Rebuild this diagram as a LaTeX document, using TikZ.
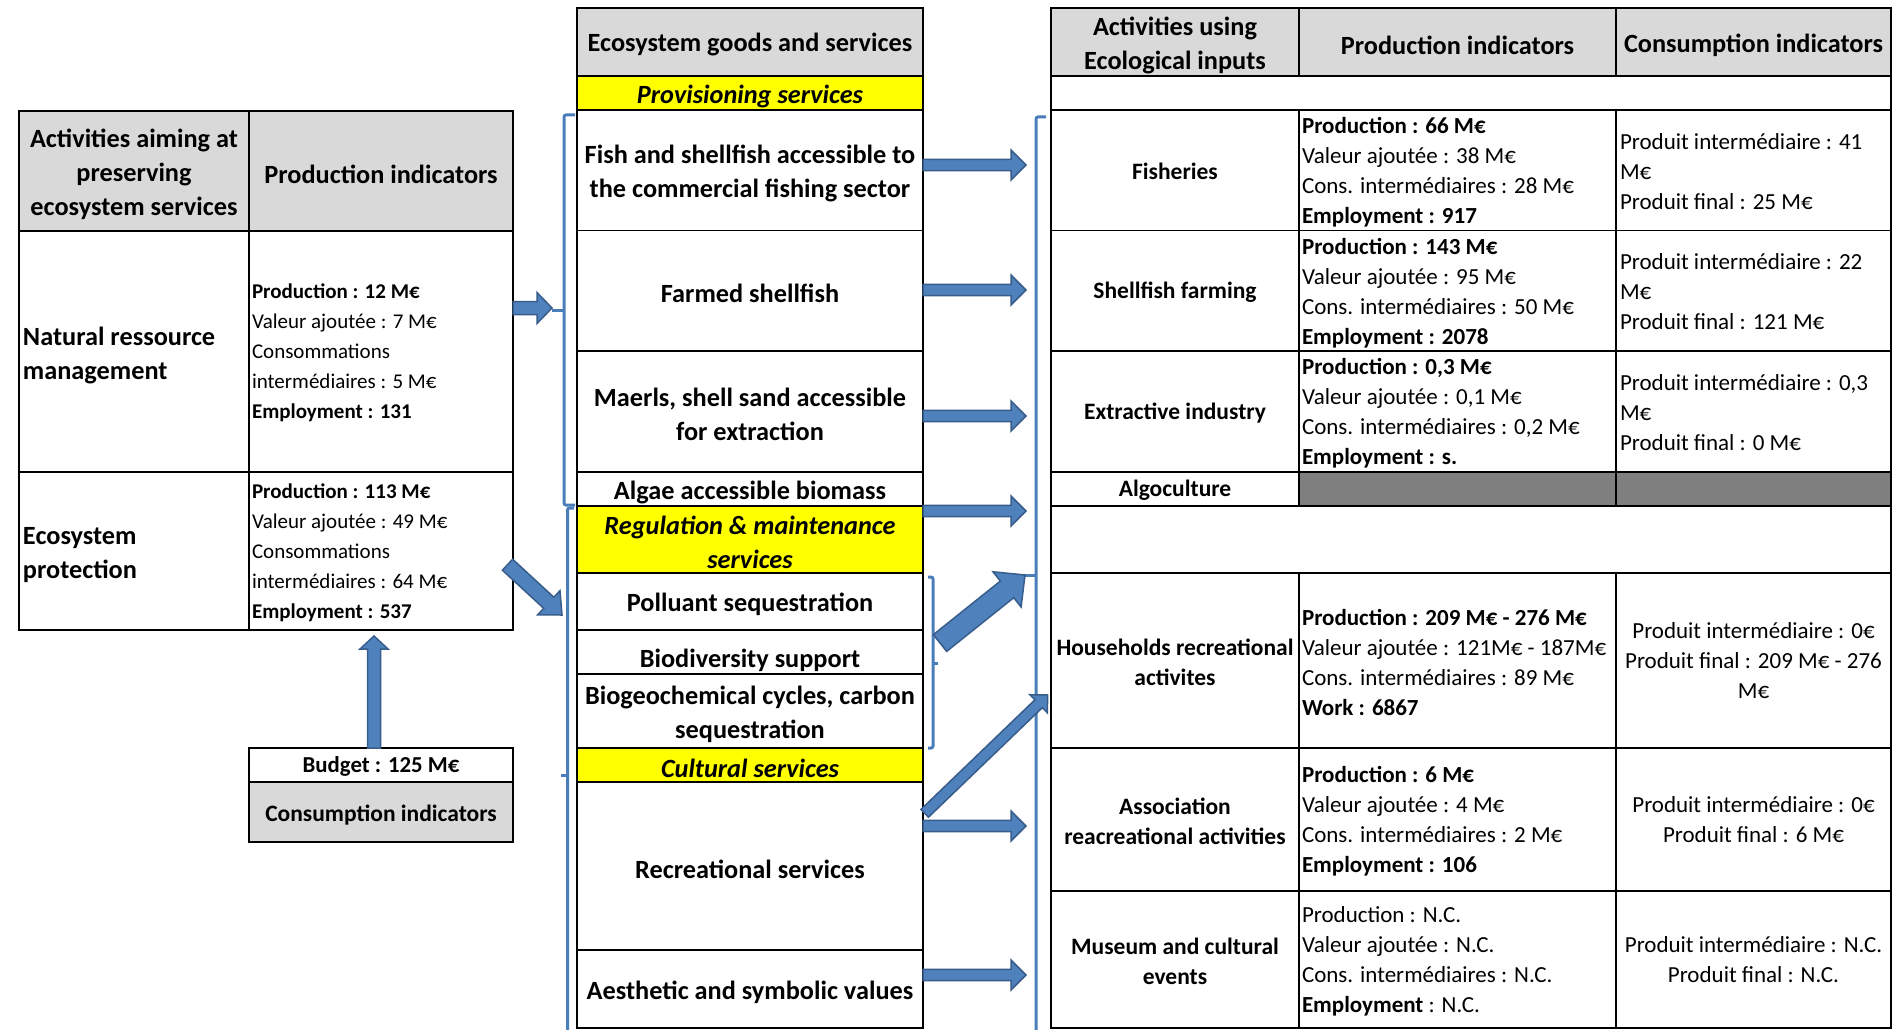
\documentclass[tikz,border=0pt]{standalone}
\usepackage{fontspec}
\setmainfont{Carlito}
\usetikzlibrary{calc,fit}
\definecolor{hgray}{HTML}{D9D9D9}
\definecolor{dgray}{HTML}{7F7F7F}
\definecolor{yel}{HTML}{FFFF00}
\definecolor{afill}{HTML}{4F81BD}
\definecolor{aline}{HTML}{385D8A}
\definecolor{bline}{HTML}{4A7EBB}
\newcommand{\fb}{\fontsize{21}{30}\selectfont}
\newcommand{\fh}{\fontsize{26.3}{34}\selectfont}
\newcommand{\frb}{\fontsize{23}{30}\selectfont}
\newcommand{\frc}{\fontsize{23.5}{30}\selectfont}
\tikzset{
  cellbox/.style={draw=black, line width=1.5pt, inner sep=0pt, outer sep=0pt},
  hdrbox/.style={cellbox, fill=hgray},
  yelbox/.style={cellbox, fill=yel},
  darkbox/.style={cellbox, fill=dgray},
  txt/.style={inner sep=0pt, outer sep=0pt, align=left, font=\fb, anchor=west},
  rtxt/.style={txt, font=\frb},
  ctxt/.style={inner sep=0pt, outer sep=0pt, align=center, font=\fb},
  bigt/.style={inner sep=0pt, outer sep=0pt, align=center, font=\fh\bfseries, yshift=-3pt},
  itt/.style={bigt, font=\fh\bfseries\itshape},
  rct/.style={inner sep=0pt, outer sep=0pt, align=center, font=\frc\bfseries, yshift=-1.5pt},
  bigl/.style={inner sep=0pt, outer sep=0pt, align=left, font=\fh\bfseries, anchor=west},
  barrowstyle/.style={fill=afill, draw=aline, line width=1.5pt, line join=miter},
  brk/.style={draw=bline, line width=3pt, rounded corners=2pt},
}
% name, x1, y1, x2, y2, box style, text style, text
\newcommand{\cell}[8]{\node[#6, fit={(#2,#3) (#4,#5)}] (#1) {};
  \node[#7] (#1t) at (#1.center) {#8};}
\newcommand{\barrow}[5]{%
  \coordinate (bh) at ($(#2)!#5!(#1)$);
  \draw[barrowstyle] ($(#1)!#3!90:(#2)$) -- ($(bh)!#3!90:(#2)$) -- ($(bh)!#4!90:(#2)$) -- (#2)
    -- ($(bh)!#4!-90:(#2)$) -- ($(bh)!#3!-90:(#2)$) -- ($(#1)!#3!-90:(#2)$) -- cycle;}
\begin{document}
\begin{tikzpicture}[x=1pt, y=-1pt]
\useasboundingbox[fill=white] (0,0) rectangle (1893,1030);

% ---------- left table ----------
\cell{lh1}{19}{111}{249}{231}{hdrbox}{bigt}{Activities aiming at\\preserving\\ecosystem services}
\cell{lh2}{249}{111}{513}{231}{hdrbox}{bigt}{Production indicators}
\cell{l11}{19}{231}{249}{472}{cellbox}{bigt}{}
\cell{l12}{249}{231}{513}{472}{cellbox}{bigt}{}
\cell{l21}{19}{472}{249}{630}{cellbox}{bigt}{}
\cell{l22}{249}{472}{513}{630}{cellbox}{bigt}{}
\node[bigl] (l11x) at ($(l11.west)+(4,3.5)$) {Natural ressource\\management};
\node[txt] (l12x) at ($(l12.west)+(3,1)$) {\textbf{Production : 12 M€}\\Valeur ajoutée : 7 M€\\Consommations\\intermédiaires : 5 M€\\\textbf{Employment : 131}};
\node[bigl] (l21x) at ($(l21.west)+(4,4.5)$) {Ecosystem\\protection};
\node[txt] (l22x) at ($(l22.west)+(3,2)$) {\textbf{Production : 113 M€}\\Valeur ajoutée : 49 M€\\Consommations\\intermédiaires : 64 M€\\\textbf{Employment : 537}};
\cell{lb1}{249}{748}{513}{782}{cellbox}{bigt, font=\fontsize{22.8}{30}\selectfont\bfseries, yshift=2pt}{Budget : 125 M€}
\cell{lb2}{249}{782}{513}{842}{hdrbox}{bigt, font=\fontsize{23.5}{30}\selectfont\bfseries}{Consumption indicators}

% ---------- middle column ----------
\cell{mh}{577}{8}{923}{76}{hdrbox}{bigt}{Ecosystem goods and services}
\cell{mprov}{577}{76}{923}{110}{yelbox}{itt}{Provisioning services}
\cell{mfish}{577}{110}{923}{230.5}{cellbox}{bigt}{Fish and shellfish accessible to\\the commercial fishing sector}
\cell{mfarm}{577}{230.5}{923}{351}{cellbox}{bigt}{Farmed shellfish}
\cell{mmaerl}{577}{351}{923}{472}{cellbox}{bigt}{Maerls, shell sand accessible\\for extraction}
\cell{malgae}{577}{472}{923}{506}{cellbox}{bigt}{Algae accessible biomass}
\cell{mreg}{577}{506}{923}{573}{yelbox}{itt}{Regulation \& maintenance\\services}
\cell{mpoll}{577}{573}{923}{630}{cellbox}{bigt}{Polluant sequestration}
\cell{mbio}{577}{630}{923}{674}{cellbox}{bigt, yshift=-5pt}{Biodiversity support}
\cell{mgeo}{577}{674}{923}{748}{cellbox}{bigt}{Biogeochemical cycles, carbon\\sequestration}
\cell{mcult}{577}{748}{923}{782}{yelbox}{itt}{Cultural services}
\cell{mrec}{577}{782}{923}{950}{cellbox}{bigt}{Recreational services}
\cell{maes}{577}{950}{923}{1028}{cellbox}{bigt}{Aesthetic and symbolic values}

% ---------- right table ----------
\cell{rh1}{1051}{8}{1299}{76}{hdrbox}{bigt}{Activities using\\Ecological inputs}
\cell{rh2}{1299}{8}{1616}{76}{hdrbox}{bigt}{Production indicators}
\cell{rh3}{1616}{8}{1891}{76}{hdrbox}{bigt}{Consumption indicators}
\cell{rb1}{1051}{76}{1891}{110}{cellbox}{bigt}{}
% Fisheries
\cell{r11}{1051}{110}{1299}{230.5}{cellbox}{rct}{Fisheries}
\cell{r12}{1299}{110}{1616}{230.5}{cellbox}{bigt}{}
\cell{r13}{1616}{110}{1891}{230.5}{cellbox}{bigt}{}
\node[rtxt] (r12x) at ($(r12.west)+(3,2)$) {\textbf{Production : 66 M€}\\Valeur ajoutée : 38 M€\\Cons. intermédiaires : 28 M€\\\textbf{Employment : 917}};
\node[rtxt] (r13x) at ($(r13.west)+(4,1)$) {Produit intermédiaire : 41\\M€\\Produit final : 25 M€};
% Shellfish farming
\cell{r21}{1051}{230.5}{1299}{351}{cellbox}{rct}{Shellfish farming}
\cell{r22}{1299}{230.5}{1616}{351}{cellbox}{bigt}{}
\cell{r23}{1616}{230.5}{1891}{351}{cellbox}{bigt}{}
\node[rtxt] (r22x) at ($(r22.west)+(3,2)$) {\textbf{Production : 143 M€}\\Valeur ajoutée : 95 M€\\Cons. intermédiaires : 50 M€\\\textbf{Employment : 2078}};
\node[rtxt] (r23x) at ($(r23.west)+(4,1)$) {Produit intermédiaire : 22\\M€\\Produit final : 121 M€};
% Extractive industry
\cell{r31}{1051}{351}{1299}{472}{cellbox}{rct}{Extractive industry}
\cell{r32}{1299}{351}{1616}{472}{cellbox}{bigt}{}
\cell{r33}{1616}{351}{1891}{472}{cellbox}{bigt}{}
\node[rtxt] (r32x) at ($(r32.west)+(3,2)$) {\textbf{Production : 0,3 M€}\\Valeur ajoutée : 0,1 M€\\Cons. intermédiaires : 0,2 M€\\\textbf{Employment : s.}};
\node[rtxt] (r33x) at ($(r33.west)+(4,1)$) {Produit intermédiaire : 0,3\\M€\\Produit final : 0 M€};
% Algoculture
\cell{r41}{1051}{472}{1299}{506}{cellbox}{rct}{Algoculture}
\cell{r42}{1299}{472}{1616}{506}{darkbox}{bigt}{}
\cell{r43}{1616}{472}{1891}{506}{darkbox}{bigt}{}
\cell{rb2}{1051}{506}{1891}{573}{cellbox}{bigt}{}
% Households
\cell{r51}{1051}{573}{1299}{748}{cellbox}{rct}{Households recreational\\activites}
\cell{r52}{1299}{573}{1616}{748}{cellbox}{bigt}{}
\cell{r53}{1616}{573}{1891}{748}{cellbox}{ctxt, font=\frb}{Produit intermédiaire : 0€\\Produit final : 209 M€ - 276\\M€}
\node[rtxt] (r52x) at ($(r52.west)+(3,2)$) {\textbf{Production : 209 M€ - 276 M€}\\Valeur ajoutée : 121M€ - 187M€\\Cons. intermédiaires : 89 M€\\\textbf{Work : 6867}};
% Association
\cell{r61}{1051}{748}{1299}{891}{cellbox}{rct}{Association\\reacreational activities}
\cell{r62}{1299}{748}{1616}{891}{cellbox}{bigt}{}
\cell{r63}{1616}{748}{1891}{891}{cellbox}{ctxt, font=\frb}{Produit intermédiaire : 0€\\Produit final : 6 M€}
\node[rtxt] (r62x) at ($(r62.west)+(3,2)$) {\textbf{Production : 6 M€}\\Valeur ajoutée : 4 M€\\Cons. intermédiaires : 2 M€\\\textbf{Employment : 106}};
% Museum
\cell{r71}{1051}{891}{1299}{1028}{cellbox}{rct}{Museum and cultural\\events}
\cell{r72}{1299}{891}{1616}{1028}{cellbox}{bigt}{}
\cell{r73}{1616}{891}{1891}{1028}{cellbox}{ctxt, font=\frb}{Produit intermédiaire : N.C.\\Produit final : N.C.}
\node[rtxt] (r72x) at ($(r72.west)+(3,2)$) {Production : N.C.\\Valeur ajoutée : N.C.\\Cons. intermédiaires : N.C.\\\textbf{Employment} : N.C.};

% ---------- brackets ----------
\draw[brk] (575,115) -- (564,115) -- (564,505) -- (575,505);
\draw[brk] (564,310) -- (552,310);
\draw[brk] (574,508) -- (567.5,508) -- (567.5,1040);
\draw[brk] (567.5,775) -- (561,775);
\draw[brk] (928,577) -- (933,577) -- (933,748) -- (928,748);
\draw[brk] (933,663) -- (938,663);
\draw[brk] (1046,117) -- (1036,117) -- (1036,1040);
\draw[brk] (1036,575) -- (1025,575);

% ---------- arrows ----------
\coordinate (a1s) at (513,308);   \coordinate (a1e) at (552,308);
\coordinate (a2s) at (507.5,564.7); \coordinate (a2e) at (562,615);
\coordinate (a3s) at (374,748);   \coordinate (a3e) at (374,636);
\barrow{a1s}{a1e}{6.5pt}{15.5pt}{15pt}
\barrow{a2s}{a2e}{7.5pt}{16.5pt}{18pt}
\barrow{a3s}{a3e}{6.5pt}{14pt}{13pt}
\foreach \yy/\nm in {165/h1, 290/h2, 416/h3, 511/h4, 826/h5, 975/h6} {
  \coordinate (\nm s) at (923,\yy); \coordinate (\nm e) at (1026,\yy);
  \barrow{\nm s}{\nm e}{5.7pt}{15pt}{15pt}
}
\coordinate (d1s) at (940,643);   \coordinate (d1e) at (1025,575);
\barrow{d1s}{d1e}{10.7pt}{22.5pt}{23pt}
\coordinate (d2s) at (924.7,813.3); \coordinate (d2e) at (1047.7,695);
\barrow{d2s}{d2e}{5.4pt}{12.5pt}{12.6pt}
\end{tikzpicture}
\end{document}
